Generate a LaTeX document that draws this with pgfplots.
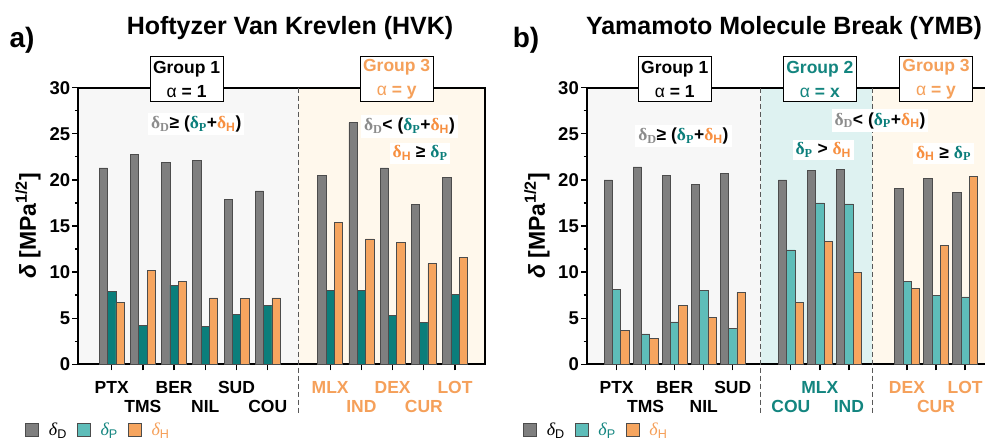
\documentclass[border=0pt]{standalone}
\usepackage{pgfplots}
\pgfplotsset{compat=1.18}
\usepackage{fontspec}
\setmainfont{Liberation Sans}
\newfontfamily\seriff{Liberation Serif}

\definecolor{gbar}{HTML}{7F7F7F}
\definecolor{tdark}{HTML}{0B7E7B}
\definecolor{tlight}{HTML}{5EBDB9}
\definecolor{obar}{HTML}{F6A55F}
\definecolor{otext}{HTML}{F5A05A}
\definecolor{ttext}{HTML}{13857F}
\definecolor{bgone}{HTML}{F7F7F7}
\definecolor{bgtwo}{HTML}{DEF2F1}
\definecolor{bgthree}{HTML}{FFF8EC}
\definecolor{dgray}{HTML}{8C8C8C}
\definecolor{oann}{HTML}{F78F40}

\newcommand{\rA}[1]{\raisebox{-22.7pt}[0pt][0pt]{#1}}
\newcommand{\rB}[1]{\raisebox{-42.4pt}[0pt][0pt]{#1}}
\newcommand{\dD}{\textcolor{dgray}{{\seriff δ}\textsubscript{\seriff D}}}
\newcommand{\dP}{\textcolor{tdark}{{\seriff δ}\textsubscript{\seriff P}}}
\newcommand{\dH}{\textcolor{oann}{{\seriff δ}\textsubscript{H}}}
\newcommand{\lD}{{\seriff\itshape δ}\textsubscript{D}}

\tikzset{
  ann/.style={fill=white, inner sep=3pt, font=\bfseries\fontsize{17.5}{20}\selectfont},
  grp/.style={draw=black, line width=1pt, fill=white, align=center,
    font=\bfseries\fontsize{17.5}{24}\selectfont, minimum width=73pt, minimum height=45pt, inner sep=2pt},
  divline/.style={gray!70!black, line width=1pt, dash pattern=on 5pt off 3pt},
}
\pgfplotsset{
  sqleg/.style={legend image code/.code={\draw[##1] (0pt,-6.5pt) rectangle (13pt,6.5pt);}},
  common/.style={
    scale only axis, height=276.6pt, ymin=0, ymax=30,
    ytick={0,5,...,30}, minor y tick num=1,
    clip=false,
    tick align=outside, xtick pos=bottom, ytick pos=left,
    major tick length=6pt, minor tick length=3.5pt,
    tick style={black, line width=1.3pt},
    /pgf/number format/assume math mode=true,
    yticklabel style={font=\bfseries\fontsize{18.5}{18.5}\selectfont, inner sep=2pt},
    xticklabel style={font=\bfseries\fontsize{17.5}{17.5}\selectfont, anchor=base, inner sep=0pt},
    ylabel={\textit{δ} [MPa\textsuperscript{1/2}]},
    ylabel style={font=\bfseries\fontsize{23}{23}\selectfont, anchor=center},
    legend columns=-1,
    legend style={draw=none, fill=none, inner sep=0pt, anchor=west,
      font=\fontsize{18}{18}\selectfont,
      /tikz/every odd column/.append style={column sep=8pt},
      /tikz/every even column/.append style={column sep=8pt}},
  },
  gb/.style={ybar, fill=gbar, draw=black!70, line width=0.7pt},
}

\begin{document}
\begin{tikzpicture}

% ---------------- panel a ----------------
\begin{axis}[common, at={(78.3pt,74.7pt)}, anchor=south west, width=406.7pt,
  axis line style={line width=1.8pt},
  xmin=-1.07, xmax=11.96, bar width=0.267,
  xtick={0,1,2,3,4,5,7,8,9,10,11},
  xticklabels={\rA{PTX},\rB{TMS},\rA{BER},\rB{NIL},\rA{SUD},\rB{COU},
    \textcolor{otext}{\rA{MLX}},\textcolor{otext}{\rB{IND}},\textcolor{otext}{\rA{DEX}},
    \textcolor{otext}{\rB{CUR}},\textcolor{otext}{\rA{LOT}}},
  ylabel style={at={(axis description cs:-0.1237,0.5)}},
  legend style={at={(axis description cs:-0.131,-0.2375)}},
]
\fill[bgone] ([xshift=0.9pt,yshift=0.9pt]axis cs:-1.07,0) rectangle ([yshift=-0.9pt]axis cs:6,30);
\fill[bgthree] ([yshift=0.9pt]axis cs:6,0) rectangle ([xshift=-0.9pt,yshift=-0.9pt]axis cs:11.96,30);
\addlegendimage{sqleg, fill=gbar, draw=black!70, line width=0.7pt}
\addlegendentry{\lD}
\addlegendimage{sqleg, fill=tlight, draw=black!70, line width=0.7pt}
\addlegendentry{\textcolor{ttext}{{\seriff\itshape δ}\textsubscript{P}}}
\addlegendimage{sqleg, fill=obar, draw=black!70, line width=0.7pt}
\addlegendentry{\textcolor{otext}{{\seriff\itshape δ}\textsubscript{H}}}
\addplot[gb, bar shift=-0.267, forget plot] coordinates {(0,21.3)(1,22.8)(2,21.9)(3,22.1)(4,17.9)(5,18.8)(7,20.5)(8,26.2)(9,21.3)(10,17.3)(11,20.3)};
\addplot[gb, fill=tdark, bar shift=0, forget plot] coordinates {(0,7.9)(1,4.2)(2,8.6)(3,4.1)(4,5.4)(5,6.4)(7,8.0)(8,8.0)(9,5.3)(10,4.5)(11,7.6)};
\addplot[gb, fill=obar, bar shift=0.267, forget plot] coordinates {(0,6.7)(1,10.2)(2,9.0)(3,7.2)(4,7.1)(5,7.2)(7,15.4)(8,13.6)(9,13.2)(10,10.9)(11,11.6)};
\draw[divline] (axis cs:6,30) -- (axis cs:6,-5.5);
\node[grp] at (axis cs:2.4,30.9) {Group 1\\{\mdseries α} = 1};
\node[grp, text=otext] at (axis cs:9.13,30.9) {Group 3\\{\mdseries α} = y};
\node[ann] at (axis cs:2.71,26.06) {\dD{}≥ (\dP{}+\dH)};
\node[ann] at (axis cs:9.54,25.8) {\dD{}< (\dP{}+\dH)};
\node[ann] at (axis cs:9.88,22.9) {\dH{} ≥ \dP};
\end{axis}

% ---------------- panel b ----------------
\begin{axis}[common, at={(587pt,74.7pt)}, anchor=south west, width=398pt,
  axis x line*=box, axis y line*=left, axis line style={line width=1.8pt, -},
  xmin=-1.02, xmax=12.687, bar width=0.285,
  xtick={0,1,2,3,4,6,7,8,10,11,12},
  xticklabels={\rA{PTX},\rB{TMS},\rA{BER},\rB{NIL},\rA{SUD},
    \textcolor{ttext}{\rB{COU}},\textcolor{ttext}{\rA{MLX}},\textcolor{ttext}{\rB{IND}},
    \textcolor{otext}{\rA{DEX}},\textcolor{otext}{\rB{CUR}},\textcolor{otext}{\rA{LOT}}},
  ylabel style={at={(axis description cs:-0.126,0.5)}},
  legend style={at={(axis description cs:-0.161,-0.2375)}},
]
\fill[bgone] ([xshift=0.9pt,yshift=0.9pt]axis cs:-1.02,0) rectangle ([yshift=-0.9pt]axis cs:4.96,30);
\fill[bgtwo] ([yshift=0.9pt]axis cs:4.96,0) rectangle ([yshift=-0.9pt]axis cs:8.8,30);
\fill[bgthree] ([yshift=0.9pt]axis cs:8.8,0) rectangle ([yshift=-0.9pt]axis cs:12.687,30);
\addlegendimage{sqleg, fill=gbar, draw=black!70, line width=0.7pt}
\addlegendentry{\lD}
\addlegendimage{sqleg, fill=tlight, draw=black!70, line width=0.7pt}
\addlegendentry{\textcolor{ttext}{{\seriff\itshape δ}\textsubscript{P}}}
\addlegendimage{sqleg, fill=obar, draw=black!70, line width=0.7pt}
\addlegendentry{\textcolor{otext}{{\seriff\itshape δ}\textsubscript{H}}}
\addplot[gb, bar shift=-0.285, forget plot] coordinates {(0,20.0)(1,21.4)(2,20.5)(3,19.5)(4,20.7)(6,20.0)(7,21.0)(8,21.1)(10,19.1)(11,20.2)(12,18.6)};
\addplot[gb, fill=tlight, bar shift=0, forget plot] coordinates {(0,8.1)(1,3.3)(2,4.6)(3,8.0)(4,3.9)(6,12.4)(7,17.5)(8,17.4)(10,9.0)(11,7.5)(12,7.3)};
\addplot[gb, fill=obar, bar shift=0.285, forget plot] coordinates {(0,3.7)(1,2.8)(2,6.4)(3,5.1)(4,7.8)(6,6.7)(7,13.3)(8,10.0)(10,8.2)(11,12.9)(12,20.4)};
\draw[divline] (axis cs:4.96,30) -- (axis cs:4.96,-5.5);
\draw[divline] (axis cs:8.8,30) -- (axis cs:8.8,-5.5);
\node[grp] at (axis cs:2.0,30.9) {Group 1\\{\mdseries α} = 1};
\node[grp, text=ttext] at (axis cs:7.0,30.9) {Group 2\\{\mdseries α} = x};
\node[grp, text=otext] at (axis cs:11.0,30.9) {Group 3\\{\mdseries α} = y};
\node[ann] at (axis cs:2.3,24.76) {\dD{}≥ (\dP{}+\dH)};
\node[ann] at (axis cs:9.07,26.44) {\dD{}< (\dP{}+\dH)};
\node[ann] at (axis cs:7.12,23.24) {\dP{} > \dH};
\node[ann] at (axis cs:11.26,22.86) {\dH{} ≥ \dP};
\end{axis}

% titles
\node[font=\bfseries\fontsize{28}{28}\selectfont] at (22pt,399pt) {a)};
\node[anchor=base, font=\bfseries\fontsize{25}{25}\selectfont] at (290pt,404pt) {Hoftyzer Van Krevlen (HVK)};
\node[font=\bfseries\fontsize{28}{28}\selectfont] at (526pt,399pt) {b)};
\node[anchor=base, font=\bfseries\fontsize{25}{25}\selectfont] at (784pt,404pt) {Yamamoto Molecule Break (YMB)};

\pgfresetboundingbox
\useasboundingbox (0,0) rectangle (985pt,439pt);
\end{tikzpicture}
\end{document}
